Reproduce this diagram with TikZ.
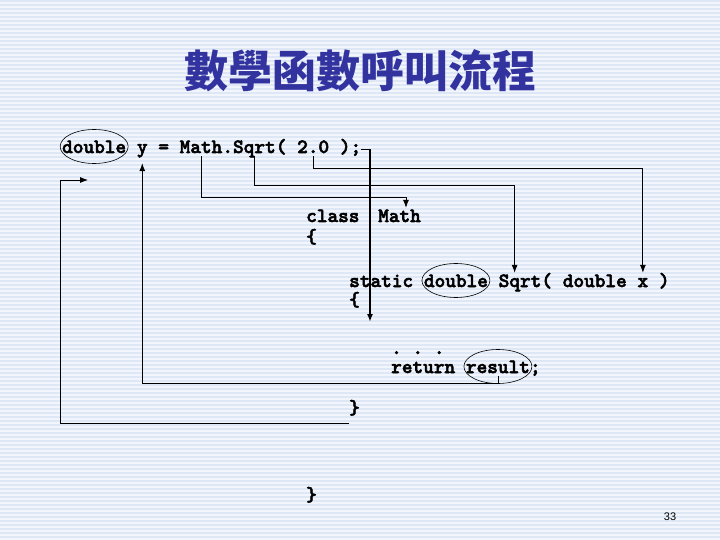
\documentclass[tikz,border=0pt]{standalone}
\usepackage{fontspec}
\usepackage{tikz}
\usetikzlibrary{positioning,arrows.meta,calc}
\setsansfont{Liberation Sans}
\newfontfamily\cjk{Noto Sans CJK TC}
\newfontfamily\codefont{lmmonolt10-bold.otf}[FakeBold=2.5]
\definecolor{titleblue}{RGB}{51,51,160}
\definecolor{paleblue}{RGB}{242,246,252}
\definecolor{stripeblue}{RGB}{221,231,245}
\newcommand\chw{10.68}

\begin{document}
\begin{tikzpicture}[
    x=1pt, y=-1pt,
    code/.style={anchor=base west, inner sep=0pt, text height=10pt, text depth=3pt, font=\codefont\fontsize{20.3}{24}\selectfont},
    heading/.style={text=titleblue, inner sep=0pt, font=\cjk\bfseries\fontsize{44}{48}\selectfont},
    line/.style={draw=black, -{Latex[length=8pt,width=6pt]}, line width=0.8pt},
    ring/.style={draw=black, line width=0.6pt},
    pagenum/.style={inner sep=0pt, font=\sffamily\fontsize{11}{13}\selectfont}
]
    % background
    \useasboundingbox (0,0) rectangle (720,540);
    \fill[paleblue] (0,0) rectangle (720,540);
    \foreach \y in {0,4,...,536} \fill[stripeblue] (0,\y) rectangle (720,\y+2);

    \node [heading] (title) at (360,71) {數學函數呼叫流程};

    % caller
    \node [code] (dbl) at (62,153) {double};
    \node [code] (yv) at (62+7*\chw,153) {y};
    \node [code] (eq) at (62+9*\chw,153) {=};
    \node [code] (math) at (62+11*\chw,153) {Math};
    \node [code] (dot) at (62+15*\chw,153) {.};
    \node [code] (sqrt) at (62+16*\chw,153) {Sqrt};
    \node [code] (lpar) at (62+20*\chw,153) {(};
    \node [code] (arg) at (62+22*\chw,153) {2.0};
    \node [code] (rpar) at (62+26*\chw,153) {)};
    \node [code] (semi) at (62+27*\chw,153) {;};

    % class Math
    \node [code] (cls) at (306,222) {class};
    \node [code] (clsname) at (378,222) {Math};
    \node [code] (lbr1) at (306,243) {\{};

    % method
    \node [code] (stat) at (349,287) {static};
    \node [code] (sdbl) at (349+7*\chw,287) {double};
    \node [code] (ssqrt) at (349+14*\chw,287) {Sqrt(};
    \node [code] (sarg) at (349+20*\chw,287) {double};
    \node [code] (sx) at (349+27*\chw,287) {x};
    \node [code] (srpar) at (349+29*\chw,287) {)};
    \node [code] (lbr2) at (349,306) {\{};
    \node [code] (dots) at (391,354) {.\ .\ .};
    \node [code] (ret) at (391,373) {return};
    \node [code] (res) at (391+7*\chw,373) {result};
    \node [code] (rsemi) at (391+13*\chw,373) {;};
    \node [code] (rbr1) at (349,414) {\}};
    \node [code] (rbr2) at (306,501) {\}};

    \node [pagenum] (page) at (670,517) {33};

    \draw [ring] ([yshift=3pt]dbl.center) ellipse [x radius=34pt, y radius=17pt];
    \draw [ring] ([yshift=3pt]sdbl.center) ellipse [x radius=34pt, y radius=17pt];
    \draw [ring] ([yshift=3pt]res.center) ellipse [x radius=34pt, y radius=17pt];

    \coordinate (body) at (370,322);
    \coordinate (back) at (88,180);

    \path [line, shorten >=4pt] (math.south) -- ++(0,41) -| ($(clsname.north west)!.65!(clsname.north east)$);
    \path [line, shorten >=4pt] (sqrt.south) -- ++(0,29) -| ($(ssqrt.north west)!.3!(ssqrt.north east)$);
    \path [line, shorten >=4pt] (arg.south) -- ++(0,12) -| (sx.north);
    \path [line, line width=1.6pt] (semi.east) -| (body);
    \path [line, shorten >=7pt] (res.south) -- ++(0,7) -| (yv.south);
    \path [line] (rbr1.south west) ++(0,6) -- ++(-289,0) |- (back);
\end{tikzpicture}
\end{document}
